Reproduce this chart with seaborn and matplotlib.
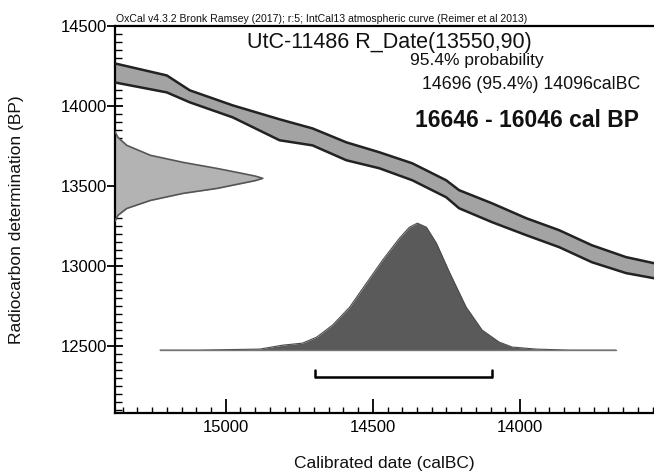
import matplotlib
matplotlib.use("Agg")
import matplotlib.pyplot as plt
from matplotlib.ticker import MultipleLocator
import numpy as np
import seaborn as sns

# calibration curve band (IntCal13), calBC vs BP
cal_x = [15376, 15200, 15122, 14976, 14817, 14705, 14590, 14478, 14366, 14251,
         14207, 14095, 13979, 13867, 13756, 13640, 13545]
cal_upper = [14266, 14191, 14098, 14004, 13917, 13860, 13773, 13711, 13642, 13536,
             13474, 13392, 13299, 13224, 13130, 13056, 13018]
cal_lower = [14147, 14085, 14023, 13929, 13786, 13754, 13661, 13611, 13536, 13430,
             13361, 13274, 13193, 13118, 13024, 12956, 12924]

# radiocarbon determination 13550 +/- 90 (relative probability)
rc_bp = [13840, 13804, 13754, 13692, 13648, 13610, 13579, 13562, 13548, 13534,
         13517, 13485, 13454, 13410, 13360, 13317, 13280]
rc_prob = [0.0, 0.02, 0.08, 0.24, 0.46, 0.69, 0.86, 0.95, 1.0, 0.95,
           0.86, 0.69, 0.46, 0.24, 0.08, 0.02, 0.0]

# calibrated date distribution (relative probability)
cd_x = [15223, 15088, 14986, 14884, 14806, 14739, 14691, 14637, 14579, 14522,
        14467, 14410, 14376, 14349, 14318, 14284, 14240, 14183, 14129, 14071,
        14027, 13945, 13834, 13674]
cd_prob = [0.0, 0.0, 0.004, 0.008, 0.039, 0.055, 0.102, 0.197, 0.338, 0.527,
           0.709, 0.881, 0.968, 1.0, 0.968, 0.842, 0.614, 0.338, 0.158, 0.063,
           0.024, 0.008, 0.0, 0.0]

range_95 = [14696, 14096]

header = "OxCal v4.3.2 Bronk Ramsey (2017); r:5; IntCal13 atmospheric curve (Reimer et al 2013)"
title = "UtC-11486 R_Date(13550,90)"
prob_text = "95.4% probability"
range_text = "14696 (95.4%) 14096calBC"
bp_text = "16646 - 16046 cal BP"

sns.set_theme(style="ticks")
plt.rcParams["font.family"] = ["Liberation Sans", "DejaVu Sans"]

W, H = 654, 471
fig = plt.figure(figsize=(W / 100, H / 100), dpi=100)
ax = fig.add_axes([115 / W, 58 / H, (W - 115) / W, (413 - 25.5) / H])

xlim = (15376, 13545)
ylim = (12082, 14503)
ax.set_xlim(*xlim)
ax.set_ylim(*ylim)

# calibration band
ax.fill_between(cal_x, cal_lower, cal_upper, color="#a3a3a3", lw=0, zorder=2)
sns.lineplot(x=cal_x, y=cal_upper, ax=ax, color="#222222", lw=1.8, zorder=3)
sns.lineplot(x=cal_x, y=cal_lower, ax=ax, color="#222222", lw=1.8, zorder=3)

# radiocarbon distribution on the y axis
rc_w = 502
rc_edge = [xlim[0] - p * rc_w for p in rc_prob]
ax.fill_betweenx(rc_bp, xlim[0], rc_edge, color="#b3b3b3", lw=0, zorder=2)
sns.lineplot(x=rc_edge, y=rc_bp, ax=ax, orient="y", color="#555555", lw=1.2, zorder=3)

# calibrated distribution
base = 12475
cd_h = 793
cd_top = [base + p * cd_h for p in cd_prob]
ax.fill_between(cd_x, base, cd_top, color="#5a5a5a", lw=0, zorder=2)
sns.lineplot(x=cd_x, y=cd_top, ax=ax, color="#4a4a4a", lw=0.8, zorder=3)
sns.lineplot(x=[cd_x[0], cd_x[-1]], y=[base, base], ax=ax, color="#777777", lw=1.0, zorder=3)

# 95.4% range bracket
by = 12307
ax.plot(range_95, [by, by], color="black", lw=1.8, zorder=4, solid_capstyle="butt")
for xv in range_95:
    ax.plot([xv, xv], [by, by + 45], color="black", lw=1.8, zorder=4)

# axes styling
for s in ["left", "bottom", "top"]:
    ax.spines[s].set_color("black")
    ax.spines[s].set_linewidth(1.6)
ax.spines["right"].set_visible(False)

ax.xaxis.set_major_locator(MultipleLocator(500))
ax.xaxis.set_minor_locator(MultipleLocator(50))
ax.yaxis.set_major_locator(MultipleLocator(500))
ax.yaxis.set_minor_locator(MultipleLocator(50))
ax.tick_params(axis="x", which="major", direction="in", length=10, width=1.3,
               labelsize=12, pad=5, colors="black")
ax.tick_params(axis="x", which="minor", direction="in", length=4, width=1.0, colors="black")
ax.tick_params(axis="y", which="major", direction="inout", length=12, width=1.3,
               labelsize=12, pad=0, colors="black")
ax.tick_params(axis="y", which="minor", direction="in", length=5, width=1.0, colors="black")
ax.tick_params(top=False, right=False, which="both")

ax.set_xlabel("Calibrated date (calBC)", fontsize=12.5, color="#111111")
ax.xaxis.set_label_coords(0.5, -0.11)
ax.set_ylabel("Radiocarbon determination (BP)", fontsize=12.5, color="#111111")
ax.yaxis.set_label_coords(-0.169, 0.5)

# annotations (positions in figure pixels from top)
def ftext(px, py, s, **kw):
    fig.text(px / W, 1 - py / H, s, va="baseline", ha="left", color="#111111", **kw)

ftext(116, 22, header, fontsize=7.6)
ftext(247, 48, title, fontsize=15.5)
ftext(410, 65, prob_text, fontsize=12.5)
ftext(422, 89, range_text, fontsize=12.8)
ftext(415, 127, bp_text, fontsize=16.5, fontweight="bold")

fig.savefig("out.png", dpi=100)
